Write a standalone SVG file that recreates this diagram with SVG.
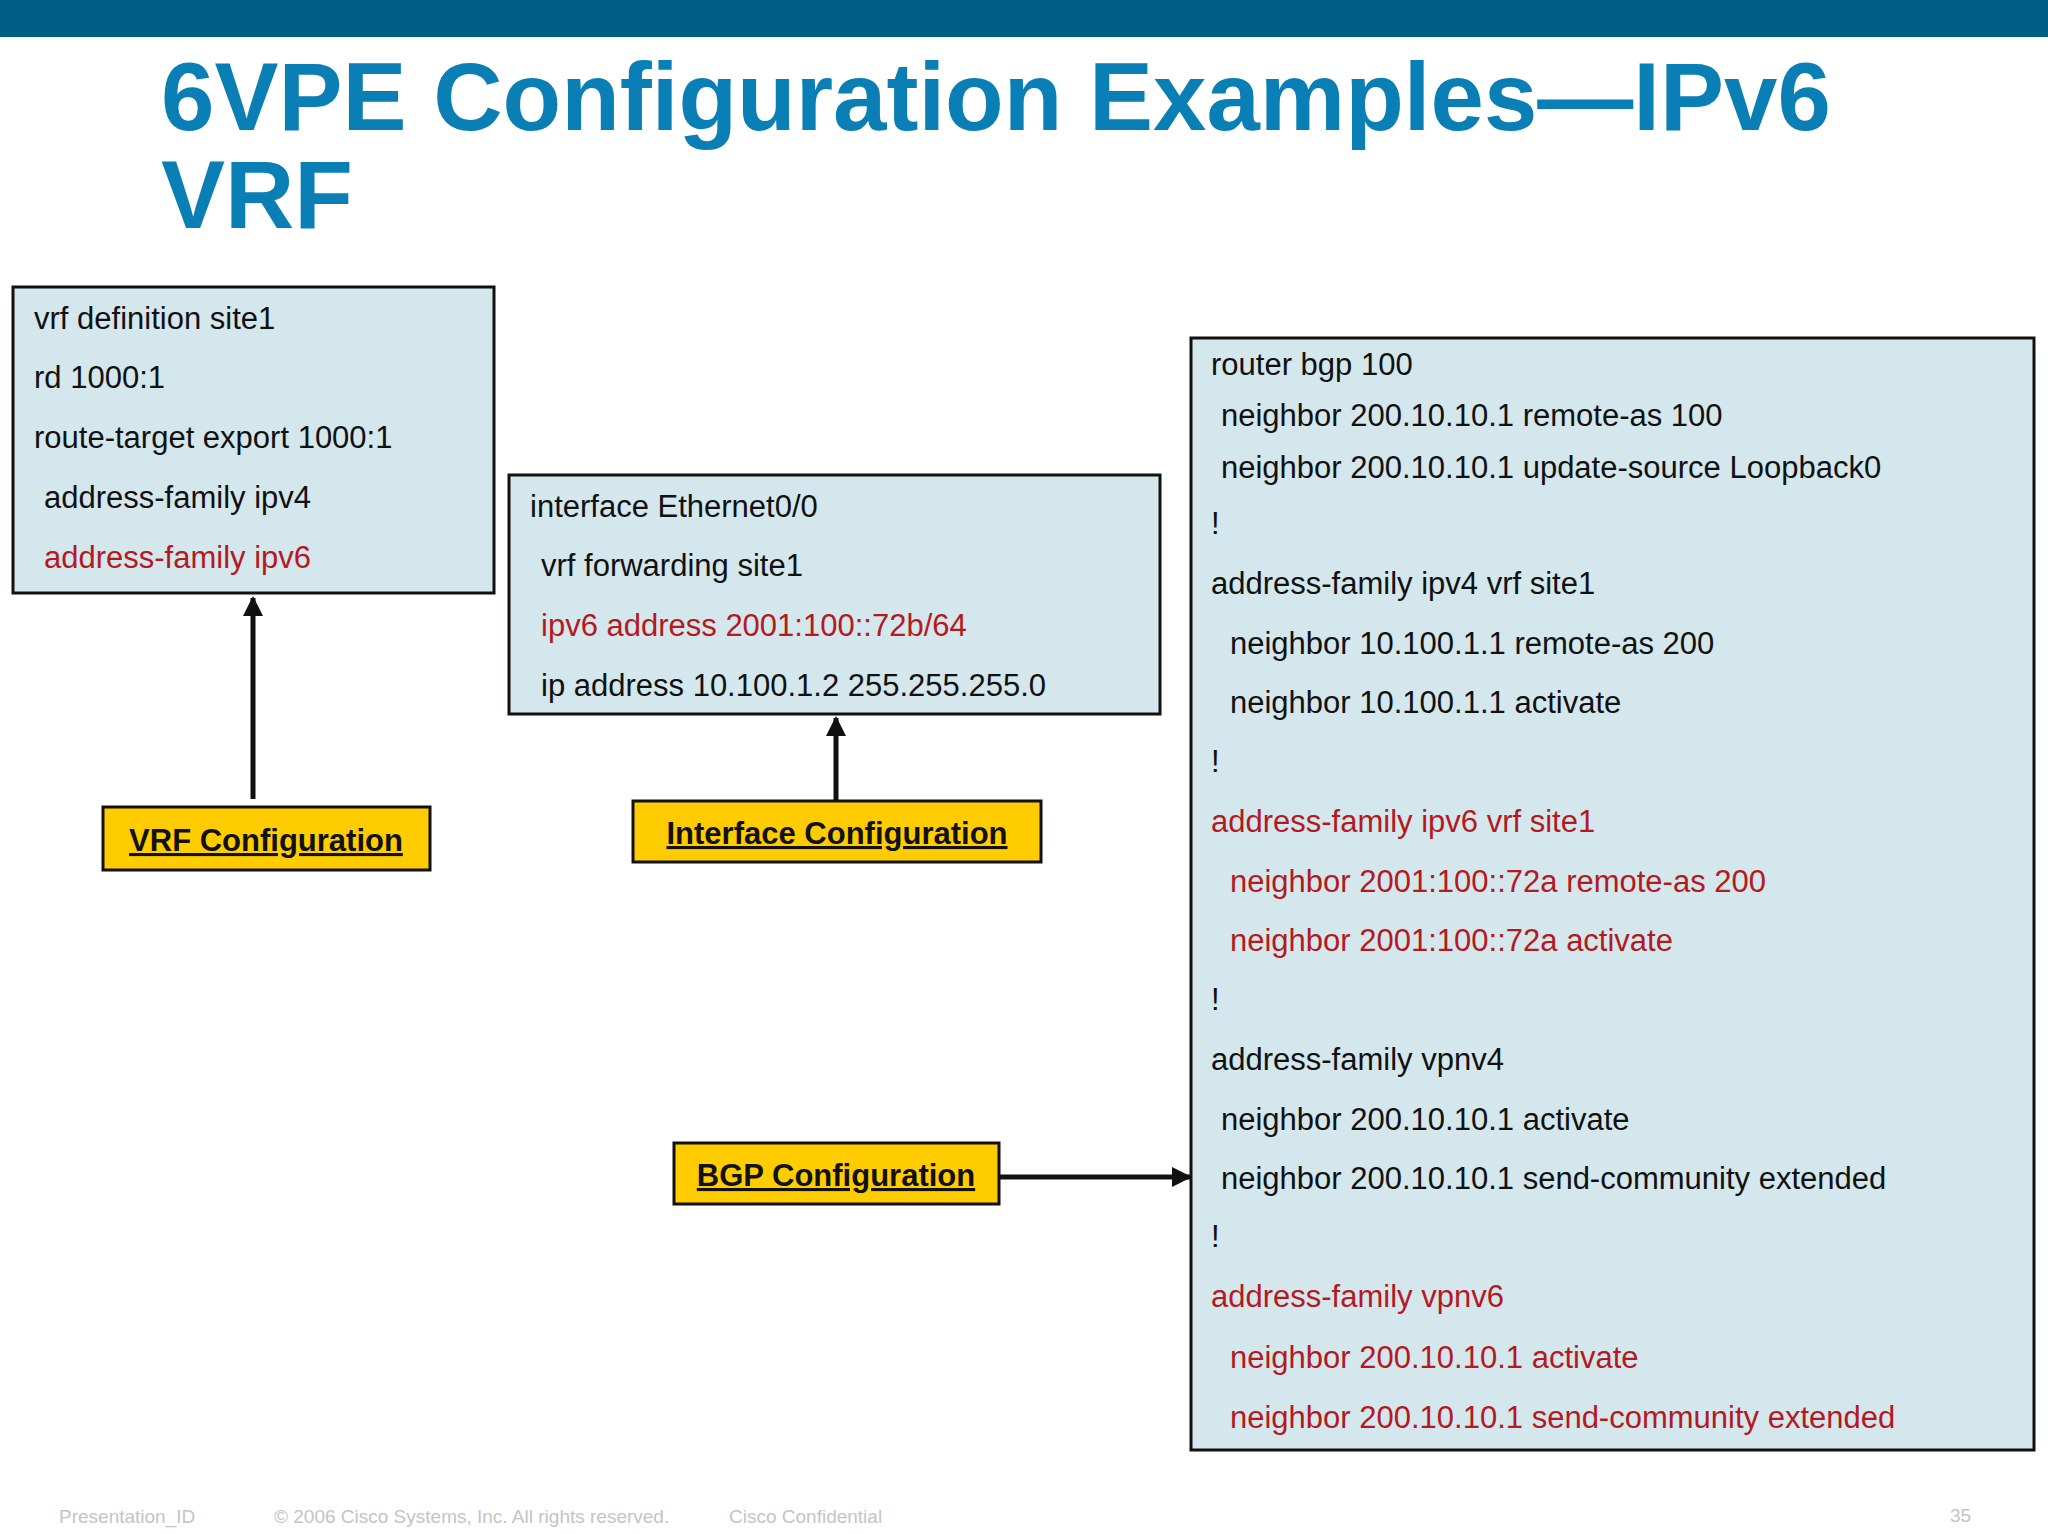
<svg xmlns="http://www.w3.org/2000/svg" width="2048" height="1534" viewBox="0 0 2048 1534">
<defs>
<style>
.t{font-family:"Liberation Sans",Arial,sans-serif;font-size:31px;fill:#111}
.r{fill:#b5191f}
.box{fill:#d3e7ec;stroke:#111;stroke-width:3}
.lab{fill:#ffcc00;stroke:#111;stroke-width:3}
.lt{font-family:"Liberation Sans",Arial,sans-serif;font-size:31px;font-weight:bold;text-decoration:underline;fill:#111;text-anchor:middle}
.f{font-family:"Liberation Sans",Arial,sans-serif;font-size:19px;fill:#c4c4c4}
</style>
<marker id="ah" viewBox="0 0 10 10" refX="9" refY="5" markerWidth="4" markerHeight="4" orient="auto"><path d="M0,0L10,5L0,10z" fill="#111"/></marker>
</defs>
<rect width="2048" height="1534" fill="#fff"/>
<rect width="2048" height="37" fill="#005d85"/>
<g id="title" font-family="Liberation Sans,Arial,sans-serif" font-weight="bold" font-size="96" fill="#0a7fb5">
<text x="161" y="130">6VPE Configuration Examples—IPv6</text>
<text x="161" y="228">VRF</text>
</g>
<g id="vrfbox">
<rect class="box" x="13" y="287" width="481" height="306"/>
<text class="t" x="34" y="329">vrf definition site1</text>
<text class="t" x="34" y="388">rd 1000:1</text>
<text class="t" x="34" y="448">route-target export 1000:1</text>
<text class="t" x="44" y="508">address-family ipv4</text>
<text class="t r" x="44" y="568">address-family ipv6</text>
</g>
<g id="ifbox">
<rect class="box" x="509" y="475" width="651" height="239"/>
<text class="t" x="530" y="517">interface Ethernet0/0</text>
<text class="t" x="541" y="576">vrf forwarding site1</text>
<text class="t r" x="541" y="636">ipv6 address 2001:100::72b/64</text>
<text class="t" x="541" y="696">ip address 10.100.1.2 255.255.255.0</text>
</g>
<g id="bgpbox">
<rect class="box" x="1191" y="338" width="843" height="1112"/>
<text class="t" x="1211" y="375">router bgp 100</text>
<text class="t" x="1221" y="426">neighbor 200.10.10.1 remote-as 100</text>
<text class="t" x="1221" y="478">neighbor 200.10.10.1 update-source Loopback0</text>
<text class="t" x="1211" y="534">!</text>
<text class="t" x="1211" y="594">address-family ipv4 vrf site1</text>
<text class="t" x="1230" y="654">neighbor 10.100.1.1 remote-as 200</text>
<text class="t" x="1230" y="713">neighbor 10.100.1.1 activate</text>
<text class="t" x="1211" y="772">!</text>
<text class="t r" x="1211" y="832">address-family ipv6 vrf site1</text>
<text class="t r" x="1230" y="892">neighbor 2001:100::72a remote-as 200</text>
<text class="t r" x="1230" y="951">neighbor 2001:100::72a activate</text>
<text class="t" x="1211" y="1010">!</text>
<text class="t" x="1211" y="1070">address-family vpnv4</text>
<text class="t" x="1221" y="1130">neighbor 200.10.10.1 activate</text>
<text class="t" x="1221" y="1189">neighbor 200.10.10.1 send-community extended</text>
<text class="t" x="1211" y="1247">!</text>
<text class="t r" x="1211" y="1307">address-family vpnv6</text>
<text class="t r" x="1230" y="1368">neighbor 200.10.10.1 activate</text>
<text class="t r" x="1230" y="1428">neighbor 200.10.10.1 send-community extended</text>
</g>
<g id="vrflabel"><rect class="lab" x="103" y="807" width="327" height="63"/><text class="lt" x="266" y="851">VRF Configuration</text></g>
<g id="iflabel"><rect class="lab" x="633" y="801" width="408" height="61"/><text class="lt" x="837" y="844">Interface  Configuration</text></g>
<g id="bgplabel"><rect class="lab" x="674" y="1143" width="325" height="61"/><text class="lt" x="836" y="1186">BGP Configuration</text></g>
<g id="connectors" stroke="#111" stroke-width="5" fill="none">
<line x1="253" y1="799" x2="253" y2="598" marker-end="url(#ah)"/>
<line x1="836" y1="800" x2="836" y2="718" marker-end="url(#ah)"/>
<line x1="999" y1="1177" x2="1190" y2="1177" marker-end="url(#ah)"/>
</g>
<g id="footer">
<text class="f" x="59" y="1523">Presentation_ID</text>
<text class="f" x="274" y="1523">© 2006 Cisco Systems, Inc. All rights reserved.</text>
<text class="f" x="729" y="1523">Cisco Confidential</text>
<text class="f" x="1950" y="1522" font-size="28">35</text>
</g>
</svg>
